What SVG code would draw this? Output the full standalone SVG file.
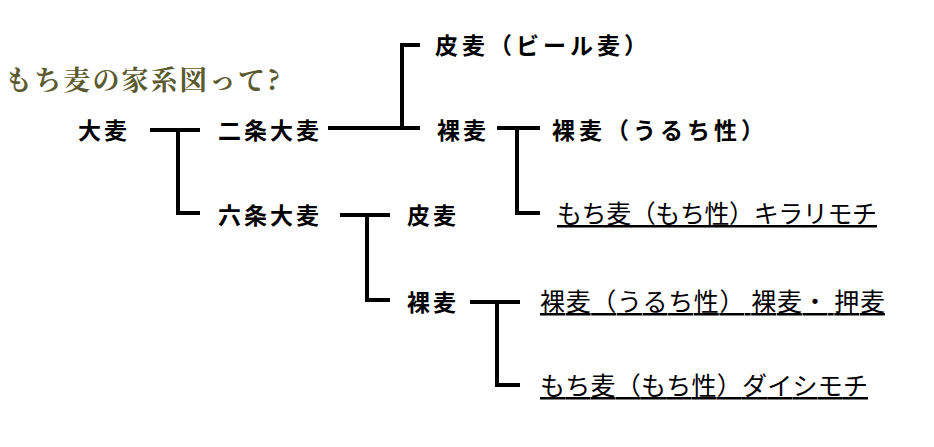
<svg xmlns="http://www.w3.org/2000/svg" width="934" height="447" viewBox="0 0 934 447">
<style>
.b{font-family:"Noto Sans CJK JP",sans-serif;font-weight:bold;font-size:23px;letter-spacing:3px;fill:#000}
.u{font-family:"Noto Sans CJK JP",sans-serif;font-size:25px;fill:#000;text-decoration:underline}
.c{stroke:#000;stroke-width:4;fill:none}
</style>
<rect width="934" height="447" fill="#fff"/>
<text x="5" y="90" font-family="'Noto Serif CJK JP','Noto Sans CJK JP',serif" font-weight="bold" font-size="27" fill="#5b5a2e" textLength="275">もち麦の家系図って?</text>
<g id="connectors">
<path class="c" d="M150 130H200M178 130V213H200"/>
<path class="c" d="M328 128H420M402 128V45H420"/>
<path class="c" d="M497 128H540M517 128V213H540"/>
<path class="c" d="M340 215H390M367 215V300H390"/>
<path class="c" d="M470 302H520M497 302V385H520"/>
</g>
<g id="n1"><text class="b" x="78" y="139">大麦</text></g>
<g id="n2"><text class="b" x="218" y="139">二条大麦</text></g>
<g id="n3"><text class="b" x="218" y="224">六条大麦</text></g>
<g id="n4"><text class="b" x="435" y="54" textLength="215">皮麦（ビール麦）</text></g>
<g id="n5"><text class="b" x="437" y="139">裸麦</text></g>
<g id="n6"><text class="b" x="552" y="139" textLength="215">裸麦（うるち性）</text></g>
<g id="n7"><text class="u" x="557" y="223" textLength="320">もち麦（もち性）キラリモチ</text></g>
<g id="n8"><text class="b" x="407" y="224">皮麦</text></g>
<g id="n9"><text class="b" x="407" y="311">裸麦</text></g>
<g id="n10"><text class="u" x="540" y="311" textLength="345">裸麦（うるち性） 裸麦・ 押麦</text></g>
<g id="n11"><text class="u" x="540" y="395" textLength="328">もち麦（もち性）ダイシモチ</text></g>
</svg>
